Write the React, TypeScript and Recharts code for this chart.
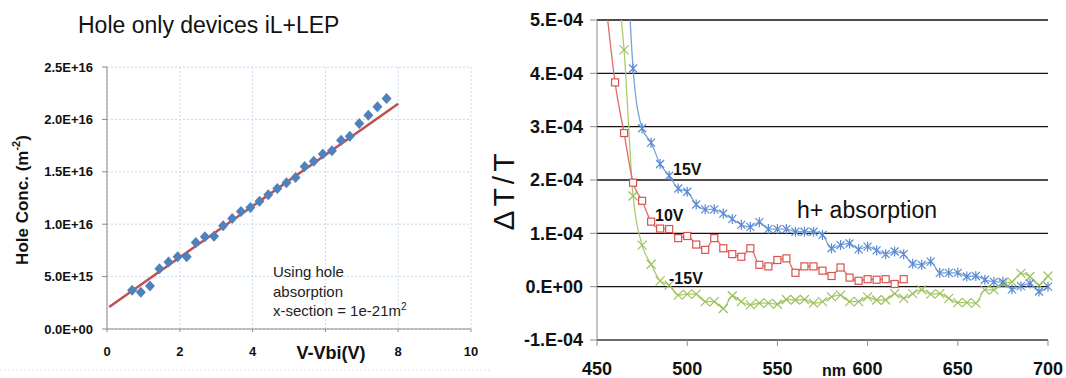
import React from "react";
import { ComposedChart, LineChart, Line, Scatter, XAxis, YAxis, CartesianGrid } from "recharts";

const FONT = "Arial, 'Liberation Sans', sans-serif";

// left panel: hole concentration (x1e15 m^-2) vs V-Vbi (V)
const holeV = [0.69, 0.93, 1.18, 1.44, 1.69, 1.94, 2.19, 2.44, 2.69, 2.94, 3.19, 3.44, 3.68, 3.94, 4.19,
  4.43, 4.68, 4.93, 5.18, 5.43, 5.68, 5.93, 6.18, 6.43, 6.67, 6.93, 7.18, 7.43, 7.68];
const holeConc = [3.7, 3.5, 4.1, 5.75, 6.4, 6.9, 6.9, 8.26, 8.8, 8.86, 9.85, 10.55, 11.2, 11.6, 12.2,
  12.8, 13.4, 13.95, 14.45, 15.5, 16.0, 16.7, 17.0, 18.0, 18.4, 19.6, 20.4, 21.2, 22.0];
const fitV = [0.06, 8.0];
const fitConc = [2.1, 21.5];
const holeXTicks = [0, 2, 4, 6, 8, 10];
const holeXLabels = ["0", "2", "4", "", "8", "10"];
const holeYTicks = [0, 5, 10, 15, 20, 25];
const holeYLabels = ["0.0E+00", "5.0E+15", "1.0E+16", "1.5E+16", "2.0E+16", "2.5E+16"];

// right panel: dT/T (x1e-4) vs wavelength (nm)
const wavelengths = [455, 460, 465, 470, 475, 480, 485, 490, 495, 500, 505, 510, 515, 520, 525, 530, 535,
  540, 545, 550, 555, 560, 565, 570, 575, 580, 585, 590, 595, 600, 605, 610, 615, 620, 625, 630, 635, 640,
  645, 650, 655, 660, 665, 670, 675, 680, 685, 690, 695, 700];
const dT15V = [null, null, 7.5, 4.09, 2.97, 2.7, 2.3, 2.08, 1.84, 1.78, 1.54, 1.45, 1.45, 1.37, 1.27, 1.16,
  1.12, 1.21, 1.08, 1.08, 1.08, 1.03, 1.03, 1.03, 0.97, 0.72, 0.78, 0.81, 0.7, 0.75, 0.68, 0.61, 0.66, 0.61,
  0.43, 0.41, 0.47, 0.26, 0.26, 0.26, 0.19, 0.2, 0.13, 0.09, 0.09, -0.05, 0.01, 0.06, -0.09, 0.0];
const dT10V = [5.3, 3.83, 2.88, 1.95, 1.61, 1.22, 1.09, 1.08, 0.91, 0.95, 0.79, 0.69, 0.91, 0.72, 0.61, 0.56,
  0.72, 0.41, 0.38, 0.5, 0.53, 0.26, 0.38, 0.38, 0.3, 0.2, 0.36, 0.17, 0.11, 0.14, 0.13, 0.14, 0.05, 0.14,
  null, null, null, null, null, null, null, null, null, null, null, null, null, null, null, null];
const dTm15V = [null, 6.0, 4.44, 1.7, 0.78, 0.42, 0.11, 0.03, -0.16, -0.14, -0.14, -0.28, -0.28, -0.41, -0.17,
  -0.28, -0.34, -0.31, -0.31, -0.33, -0.24, -0.25, -0.24, -0.31, -0.28, -0.19, -0.16, -0.28, -0.28, -0.19,
  -0.25, -0.25, -0.13, -0.22, -0.13, -0.06, -0.14, -0.13, -0.22, -0.3, -0.3, -0.31, -0.06, -0.06, 0.06, 0.09,
  0.25, 0.19, 0.03, 0.2];
const nmTicks = [450, 500, 550, 600, 650, 700];
const dtYTicks = [-1, 0, 1, 2, 3, 4, 5];
const dtYLabels = ["-1.E-04", "0.E+00", "1.E-04", "2.E-04", "3.E-04", "4.E-04", "5.E-04"];

const holePoints = holeV.map((x, i) => ({ x, y: holeConc[i] }));
const fitPoints = fitV.map((x, i) => ({ x, y: fitConc[i] }));
const spectra = wavelengths.map((nm, i) => ({ nm, v15: dT15V[i], v10: dT10V[i], vm15: dTm15V[i] }));

const diamond = (p: any) => (
  <polygon
    points={`${p.cx},${p.cy - 5.5} ${p.cx + 5},${p.cy} ${p.cx},${p.cy + 5.5} ${p.cx - 5},${p.cy}`}
    fill="#4f81bd"
  />
);

const starDot = (p: any) => {
  const { cx, cy, index } = p;
  if (cx == null || cy == null) return <g key={`s${index}`} />;
  return (
    <path
      key={`s${index}`}
      d={`M${cx - 4} ${cy - 4}L${cx + 4} ${cy + 4}M${cx - 4} ${cy + 4}L${cx + 4} ${cy - 4}M${cx} ${cy - 5}L${cx} ${cy + 5}`}
      stroke="#5b8ad2"
      strokeWidth={1.2}
      fill="none"
    />
  );
};

const squareDot = (p: any) => {
  const { cx, cy, index } = p;
  if (cx == null || cy == null) return <g key={`q${index}`} />;
  return <rect key={`q${index}`} x={cx - 3.5} y={cy - 3.5} width={7} height={7} fill="#fff" stroke="#d9534f" strokeWidth={1.2} />;
};

const crossDot = (p: any) => {
  const { cx, cy, index } = p;
  if (cx == null || cy == null) return <g key={`x${index}`} />;
  return (
    <path
      key={`x${index}`}
      d={`M${cx - 4.5} ${cy - 4.5}L${cx + 4.5} ${cy + 4.5}M${cx - 4.5} ${cy + 4.5}L${cx + 4.5} ${cy - 4.5}`}
      stroke="#9bc25a"
      strokeWidth={1.2}
      fill="none"
    />
  );
};

const App = () => {
  return (
    <div style={{ position: "absolute", left: 0, top: 0, width: 1066, height: 378, background: "#fff", overflow: "hidden", fontFamily: FONT }}>
      <div style={{ position: "absolute", left: 0, top: 0 }}>
        <ComposedChart width={500} height={378} margin={{ top: 67, right: 29, bottom: 0, left: 0 }}>
          <CartesianGrid stroke="#c6d9f0" strokeDasharray="2 2" />
          <XAxis
            dataKey="x"
            type="number"
            domain={[0, 10]}
            ticks={holeXTicks}
            tickFormatter={(v, i) => holeXLabels[i]}
            height={49}
            stroke="#8a8a8a"
            tickSize={3}
            tickMargin={15}
            tick={{ fill: "#111", fontSize: 13, fontWeight: "bold", fontFamily: FONT }}
          />
          <YAxis
            type="number"
            domain={[0, 25]}
            ticks={holeYTicks}
            tickFormatter={(v, i) => holeYLabels[i]}
            width={107}
            stroke="#8a8a8a"
            tickSize={5}
            tickMargin={9}
            tick={{ fill: "#111", fontSize: 13, fontWeight: "bold", fontFamily: FONT }}
          />
          <Line data={fitPoints} dataKey="y" stroke="#c0504d" strokeWidth={2.5} dot={false} isAnimationActive={false} />
          <Scatter data={holePoints} dataKey="y" shape={diamond} isAnimationActive={false} />
        </ComposedChart>
      </div>
      <div style={{ position: "absolute", left: 500, top: 0 }}>
        <LineChart width={566} height={378} data={spectra} margin={{ top: 20, right: 18, bottom: 0, left: 0 }}>
          <CartesianGrid vertical={false} stroke="#111" strokeWidth={1.4} />
          <XAxis
            dataKey="nm"
            type="number"
            domain={[450, 700]}
            ticks={nmTicks}
            height={38}
            stroke="#8a8a8a"
            tickSize={6}
            tickMargin={16}
            tick={{ fill: "#111", fontSize: 18, fontWeight: "bold", fontFamily: FONT }}
          />
          <YAxis
            type="number"
            domain={[-1, 5]}
            allowDataOverflow
            ticks={dtYTicks}
            tickFormatter={(v, i) => dtYLabels[i]}
            width={97}
            stroke="#8a8a8a"
            tickSize={7}
            tickMargin={7}
            tick={{ fill: "#111", fontSize: 18, fontWeight: "bold", fontFamily: FONT }}
          />
          <Line type="monotone" dataKey="vm15" stroke="#a8cc70" strokeWidth={1.3} dot={crossDot} isAnimationActive={false} />
          <Line type="monotone" dataKey="v10" stroke="#e06b6b" strokeWidth={1.3} dot={squareDot} isAnimationActive={false} />
          <Line type="monotone" dataKey="v15" stroke="#76a3dd" strokeWidth={1.3} dot={starDot} isAnimationActive={false} />
        </LineChart>
      </div>
      <svg width={1066} height={378} style={{ position: "absolute", left: 0, top: 0, pointerEvents: "none" }} fontFamily={FONT}>
        <text x={78} y={33} fontSize={23} fill="#111">Hole only devices iL+LEP</text>
        <text transform="rotate(-90 22 200)" x={22} y={200} textAnchor="middle" dominantBaseline="central" fontSize={17} fontWeight="bold" fill="#111">
          Hole Conc. (m<tspan dy={-6} fontSize={11}>-2</tspan><tspan dy={6}>)</tspan>
        </text>
        <text x={331} y={359} textAnchor="middle" fontSize={18} fontWeight="bold" fill="#111">V-Vbi(V)</text>
        <text x={273} y={277} fontSize={15} fill="#222">Using hole</text>
        <text x={273} y={297} fontSize={15} fill="#222">absorption</text>
        <text x={273} y={316} fontSize={15} fill="#222">
          x-section = 1e-21m<tspan dy={-6} fontSize={10}>2</tspan>
        </text>
        <line x1={0} y1={370} x2={490} y2={370} stroke="#e2e2e2" strokeDasharray="2 2" />
        <text transform="rotate(-90 503 190)" x={503} y={190} textAnchor="middle" dominantBaseline="central" fontSize={30} letterSpacing={4} fill="#111">ΔT/T</text>
        <text x={797} y={218} fontSize={23} fill="#111">h+ absorption</text>
        <text x={673} y={175} fontSize={16} fontWeight="bold" fill="#111">15V</text>
        <text x={655} y={221} fontSize={16} fontWeight="bold" fill="#111">10V</text>
        <text x={669} y={284} fontSize={16} fontWeight="bold" fill="#111">-15V</text>
        <text x={822} y={376} fontSize={16} fontWeight="bold" fill="#111">nm</text>
      </svg>
    </div>
  );
};

export default App;
